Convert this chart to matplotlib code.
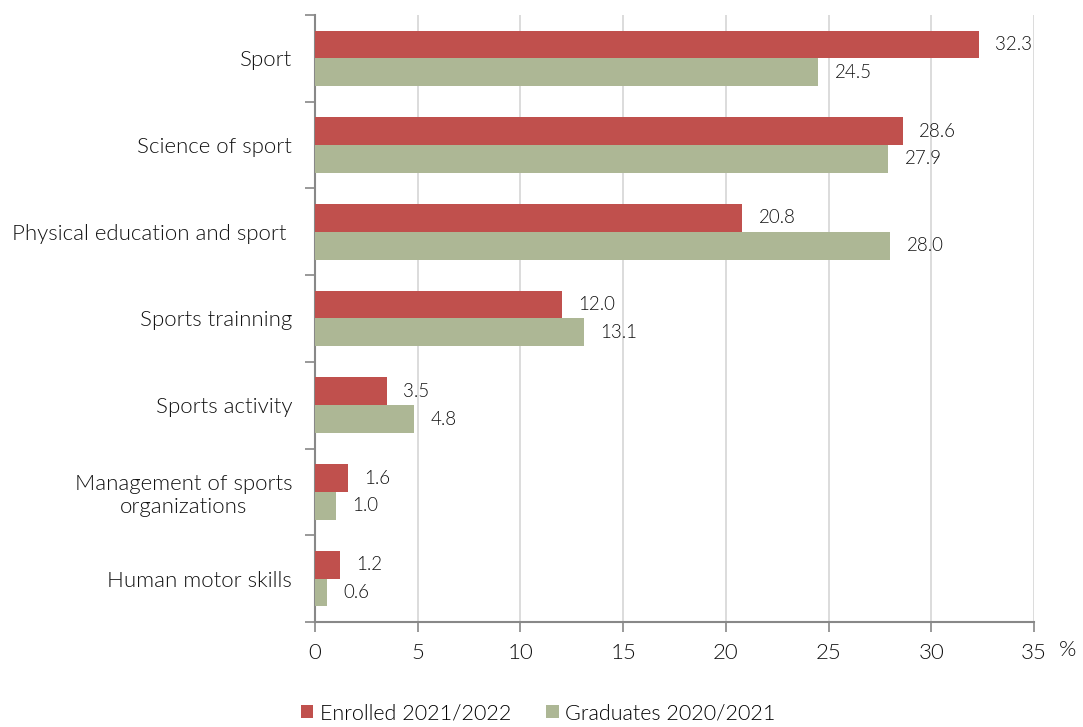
import matplotlib
matplotlib.use("Agg")
import matplotlib.pyplot as plt
import numpy as np

plt.rcParams['font.family'] = ['Lato', 'DejaVu Sans']
plt.rcParams['font.weight'] = 300

categories = ["Sport", "Science of sport", "Physical education and sport ",
              "Sports trainning", "Sports activity",
              "Management of sports\norganizations", "Human motor skills"]
enrolled = [32.3, 28.6, 20.8, 12.0, 3.5, 1.6, 1.2]
graduates = [24.5, 27.9, 28.0, 13.1, 4.8, 1.0, 0.6]
series_names = ["Enrolled 2021/2022", "Graduates 2020/2021"]
xticks = [0, 5, 10, 15, 20, 25, 30, 35]

red = "#C0504D"
green = "#ADB795"
axis_gray = "#888888"
txt = "#111111"
fs = 16
fs_val = 13.5

fig = plt.figure(figsize=(10.83, 7.27), dpi=100)
ax = fig.add_axes([0.2909, 0.1444, 0.9548 - 0.2909, 0.9794 - 0.1444])

n = len(categories)
y = np.arange(n)
h = 0.32
ax.barh(y - h / 2, enrolled, height=h, color=red, label=series_names[0], zorder=3)
ax.barh(y + h / 2, graduates, height=h, color=green, label=series_names[1], zorder=3)

for yi, v in zip(y, enrolled):
    ax.text(v + 0.8, yi - h / 2, f"{v:.1f}", va="center", ha="left", fontsize=fs_val, color=txt)
for yi, v in zip(y, graduates):
    ax.text(v + 0.8, yi + h / 2, f"{v:.1f}", va="center", ha="left", fontsize=fs_val, color=txt)

ax.set_ylim(n - 0.5, -0.5)
ax.set_xlim(0, 35)
ax.set_xticks(xticks)
ax.set_xticklabels([str(t) for t in xticks], fontsize=fs, color=txt)
ax.set_yticks(y)
ax.set_yticklabels(categories, fontsize=fs, color=txt, multialignment="center")
ax.tick_params(axis="y", length=0, pad=16.5)
ax.set_yticks(np.arange(-0.5, n, 1), minor=True)
ax.tick_params(axis="y", which="minor", length=7, color=axis_gray, width=1.2)
ax.tick_params(axis="x", length=7, color=axis_gray, width=1.2, pad=8)

ax.grid(axis="x", color="#D9D9D9", linewidth=1.3, zorder=0)
for s in ["top", "right"]:
    ax.spines[s].set_visible(False)
for s in ["left", "bottom"]:
    ax.spines[s].set_color(axis_gray)
    ax.spines[s].set_linewidth(1.5)

fig.text(1068 / 1083, 1 - 650 / 727, "%", fontsize=fs, ha="center", va="center", color=txt)

leg = fig.legend(loc="center", bbox_to_anchor=(538 / 1083, 1 - 713 / 727), ncol=2, frameon=False,
                 fontsize=15.5, handlelength=0.6, handleheight=0.6, handletextpad=0.3,
                 columnspacing=1.6)

fig.savefig("out.png", dpi=100)
